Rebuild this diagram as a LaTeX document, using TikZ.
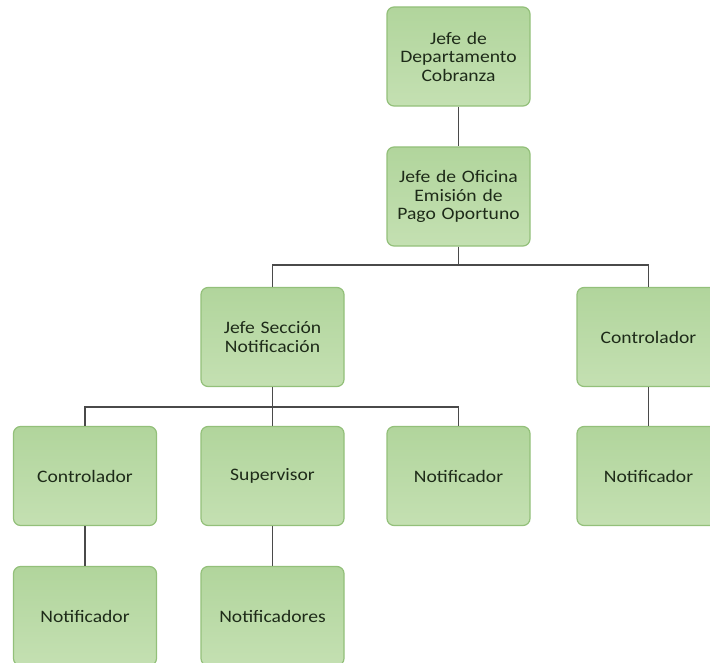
\documentclass[tikz,border=0pt]{standalone}
\usepackage{fontspec}
\setmainfont{Carlito}[FakeStretch=1.12]
\definecolor{boxtop}{HTML}{B1D59C}
\definecolor{boxbot}{HTML}{C4E0B2}
\definecolor{boxline}{HTML}{93C07A}
\definecolor{txt}{HTML}{1E2B19}
\definecolor{conn}{HTML}{4A4A4A}
\begin{document}
\begin{tikzpicture}[x=1bp,y=-1bp,
  box/.style={rounded corners=7bp, draw=boxline, line width=1.2bp,
    top color=boxtop, bottom color=boxbot, minimum width=143bp, minimum height=99bp,
    text width=138bp, align=center, text=txt,
    font=\fontsize{17.5bp}{18.5bp}\selectfont, inner sep=0pt},
  conn/.style={draw=conn, line width=1.8bp}]
\useasboundingbox (0,0) rectangle (710,663);
\clip (0,0) rectangle (710,663);
\node[box] (b1) at (458.5,56.5) {Jefe de\\Departamento\\Cobranza};
\node[box] (b2) at (458.5,196.5) {Jefe de Oficina\\Emisión de\\Pago Oportuno};
\node[box] (b3) at (272.5,337) {Jefe Sección\\Notificación};
\node[box] (rc) at (648.5,337) {Controlador};
\node[box] (c1) at (85,476) {Controlador};
\node[box] (s1) at (272.5,476) {Supervisor};
\node[box] (n1) at (458.5,476) {Notificador};
\node[box] (rn) at (648.5,476) {Notificador};
\node[box] (n2) at (85,616) {Notificador};
\node[box] (ns) at (272.5,616) {Notificadores};
\draw[conn] (b1.south) -- (b2.north);
\draw[conn] (b2.south) -- (b2.south |- 0,265) -| (b3.north);
\draw[conn] (b2.south) -- (b2.south |- 0,265) -| (rc.north);
\draw[conn] (b3.south) -- (b3.south |- 0,407) -| (c1.north);
\draw[conn] (b3.south) -- (s1.north);
\draw[conn] (b3.south |- 0,407) -| (n1.north);
\draw[conn] (rc.south) -- (rn.north);
\draw[conn] (c1.south) -- (n2.north);
\draw[conn] (s1.south) -- (ns.north);
\end{tikzpicture}
\end{document}
